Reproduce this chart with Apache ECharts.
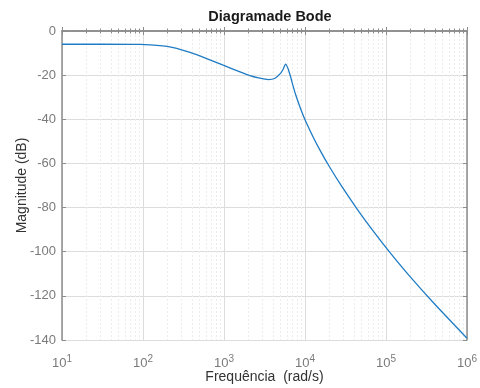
<!DOCTYPE html>
<html>
<head>
<meta charset="utf-8">
<script src="https://cdn.jsdelivr.net/npm/echarts@6/dist/echarts.min.js"></script>
<style>
  html, body { margin: 0; padding: 0; background: #fff; }
  #chart { width: 480px; height: 388px; }
</style>
</head>
<body>
<div id="chart"></div>
<script>
// frequency (rad/s) and magnitude (dB)
const freqs = [10, 31.6, 92, 162, 237, 380, 611, 977, 1578, 2089, 2655, 3524, 4266, 5012,
  5370, 5754, 6166, 6607, 7079, 7586, 8318, 9120, 10000, 12589, 15849, 19953, 28184,
  44668, 70795, 112202, 199526, 398107, 1000000]
const magDb = [-6, -6, -6.1, -6.6, -7.5, -9.7, -12.5, -15.5, -18.5, -20.2, -21.2, -22.0, -21.4, -19.1,
  -17.3, -15.0, -17.0, -20.5, -24.5, -28.3, -32.6, -36.6, -40.2, -48.0, -55.0, -61.4, -70.2,
  -81.0, -91.0, -100.4, -111.4, -123.7, -139.2]

const xMin = 10, xMax = 1e6
const yMin = -140, yMax = 0, yStep = 20

const axisGrey = '#8c8c8c'
const labelGrey = '#7a7a7a'
const font = 'Liberation Sans, Arial, sans-serif'

const chart = echarts.init(document.getElementById('chart'), null, { renderer: 'canvas' })

const logX = (pos, extra) => Object.assign({
  type: 'log',
  logBase: 10,
  min: xMin,
  max: xMax,
  splitNumber: 5,
  position: pos,
  axisLine: { show: true, lineStyle: { color: axisGrey, width: 1.5 } },
  axisTick: { show: true, inside: true, length: 4, lineStyle: { color: axisGrey } },
  minorTick: { show: true, splitNumber: 9, length: 2.5, lineStyle: { color: axisGrey } },
  splitLine: { show: false },
  axisLabel: { show: false },
}, extra)

const linY = (pos, extra) => Object.assign({
  type: 'value',
  min: yMin,
  max: yMax,
  interval: yStep,
  position: pos,
  axisLine: { show: true, lineStyle: { color: axisGrey, width: 1.5 } },
  axisTick: { show: true, inside: true, length: 4, lineStyle: { color: axisGrey } },
  splitLine: { show: false },
  axisLabel: { show: false },
}, extra)

chart.setOption({
  animation: false,
  textStyle: { fontFamily: font },
  title: {
    text: 'Diagramade Bode',
    left: 265,
    textAlign: 'center',
    top: 4,
    textStyle: { fontSize: 14.5, fontWeight: 'bold', color: '#1a1a1a', fontFamily: font },
  },
  grid: { left: 62, right: 13, top: 31, bottom: 48, containLabel: false, outerBoundsMode: 'none' },
  xAxis: [
    logX('bottom', {
      name: 'Frequência  (rad/s)',
      nameLocation: 'middle',
      nameGap: 30,
      nameMoveOverlap: false,
      nameTextStyle: { fontSize: 14, color: '#333', fontFamily: font, verticalAlign: 'top' },
      splitLine: { show: true, lineStyle: { color: '#dcdcdc', width: 1 } },
      minorSplitLine: { show: true, lineStyle: { color: '#ececec', width: 1, type: [2, 2] } },
      axisLabel: {
        show: true,
        margin: 14,
        formatter: v => '{b|10}{s|' + Math.round(Math.log10(v)) + '}',
        rich: {
          b: { fontSize: 13, color: labelGrey, fontFamily: font },
          s: { fontSize: 10, color: labelGrey, fontFamily: font, padding: [0, 0, 8, 0] },
        },
      },
    }),
    logX('top', {}),
  ],
  yAxis: [
    linY('left', {
      name: 'Magnitude (dB)',
      nameLocation: 'middle',
      nameGap: 33,
      nameMoveOverlap: false,
      nameTextStyle: { fontSize: 14, color: '#333', fontFamily: font },
      splitLine: { show: true, lineStyle: { color: '#dcdcdc', width: 1 } },
      axisLabel: { show: true, margin: 6, fontSize: 13, color: labelGrey, fontFamily: font },
    }),
    linY('right', {}),
  ],
  series: [{
    type: 'line',
    xAxisIndex: 0,
    yAxisIndex: 0,
    data: freqs.map((f, i) => [f, magDb[i]]),
    smooth: 0.2,
    showSymbol: false,
    lineStyle: { color: '#1f7cc4', width: 1.3 },
  }],
})
</script>
</body>
</html>
